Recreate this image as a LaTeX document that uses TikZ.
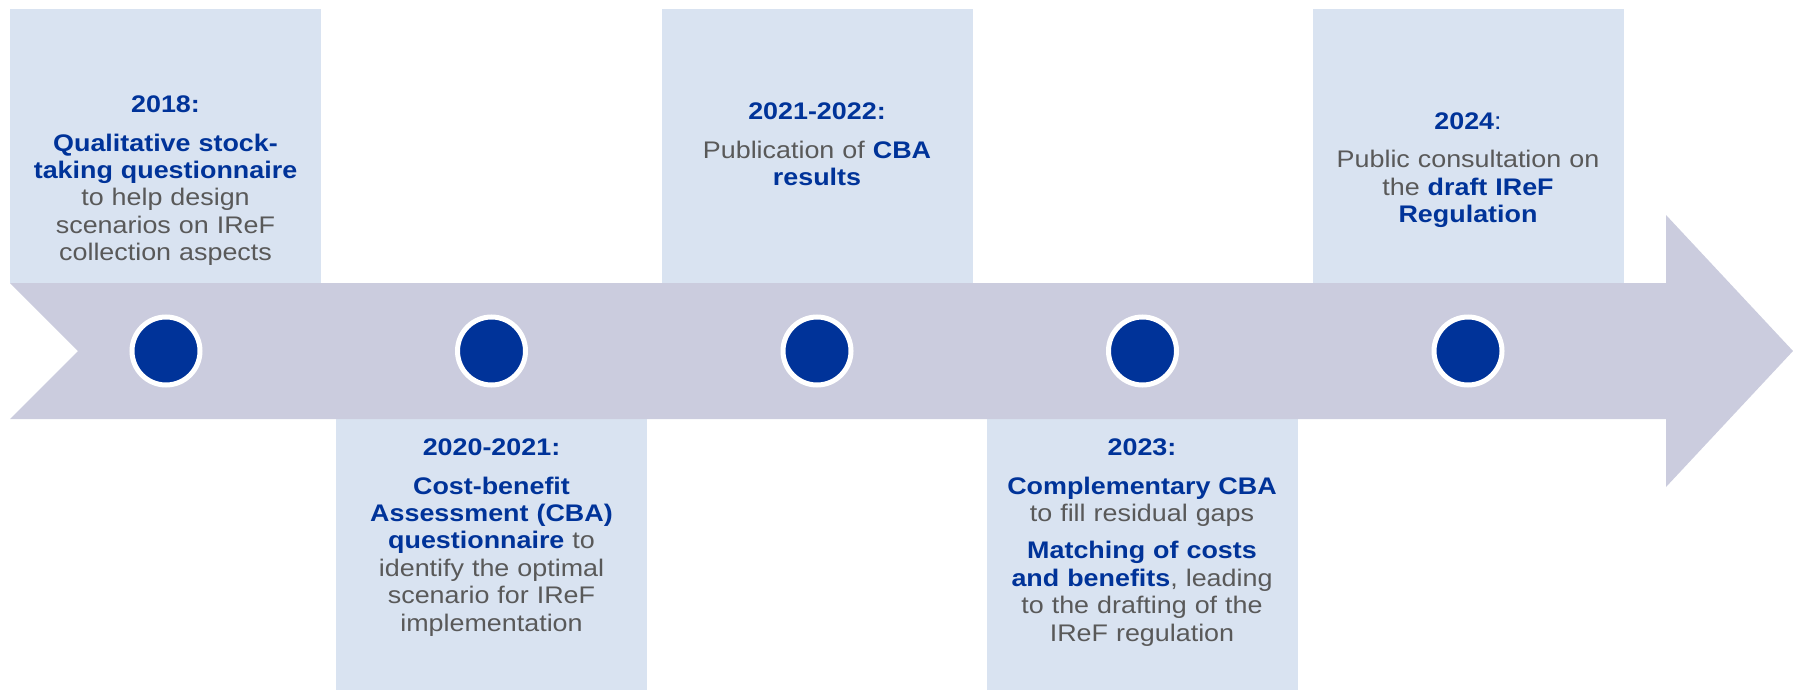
\documentclass[tikz,border=0pt]{standalone}
\usepackage{fontspec}
\setmainfont{Liberation Sans}[FakeStretch=1.12,
  UprightFeatures={FakeStretch=1.12},
  BoldFeatures={FakeStretch=1.12}]
\definecolor{ecbblue}{RGB}{0,51,153}
\definecolor{txtgrey}{RGB}{89,89,89}
\definecolor{boxfill}{RGB}{217,227,241}
\definecolor{bandfill}{RGB}{203,204,222}
\newcommand{\hb}[1]{{\bfseries\color{ecbblue}#1}}
\begin{document}
\begin{tikzpicture}[x=1pt,y=-1pt,
  evbox/.style={fill=boxfill, draw=none, minimum width=311pt, inner sep=0pt, outer sep=0pt},
  topbox/.style={evbox, minimum height=274pt},
  botbox/.style={evbox, minimum height=271pt},
  evtext/.style={anchor=base, align=center, text width=320pt, inner sep=0pt,
    font=\fontsize{24}{27.4}\selectfont, text=txtgrey},
  evdot/.style={circle, fill=ecbblue, draw=white, line width=5pt, minimum size=68pt, inner sep=0pt}]
\useasboundingbox (0,0) rectangle (1793,690);
% boxes
\node[topbox] (b1) at (165.5,146) {};
\node[botbox] (b2) at (491.5,554.5) {};
\node[topbox] (b3) at (817,146) {};
\node[botbox] (b4) at (1142,554.5) {};
\node[topbox] (b5) at (1468,146) {};
% band arrow
\fill[bandfill] (10,283) -- (1666,283) -- (1666,215) -- (1793,351) -- (1666,487)
  -- (1666,419) -- (10,419) -- (78,351) -- cycle;
% dots
\node[evdot] (d1) at (166,351) {};
\node[evdot] (d2) at (491.5,351) {};
\node[evdot] (d3) at (817,351) {};
\node[evdot] (d4) at (1142.5,351) {};
\node[evdot] (d5) at (1468,351) {};
% texts
\node[evtext] (t1) at (165.5,112.7) {\hb{2018:}\\[11pt]
  \hb{Qualitative stock-}\\
  \hb{taking questionnaire}\\
  to help design\\
  scenarios on IReF\\
  collection aspects};
\node[evtext] (t2) at (491.5,455.7) {\hb{2020-2021:}\\[11pt]
  \hb{Cost-benefit}\\
  \hb{Assessment (CBA)}\\
  \hb{questionnaire} to\\
  identify the optimal\\
  scenario for IReF\\
  implementation};
\node[evtext] (t3) at (817,120) {\hb{2021-2022:}\\[11pt]
  Publication of \hb{CBA}\\
  \hb{results}};
\node[evtext] (t4) at (1142,455.7) {\hb{2023:}\\[11pt]
  \hb{Complementary CBA}\\
  to fill residual gaps\\[10pt]
  \hb{Matching of costs}\\
  \hb{and benefits}, leading\\
  to the drafting of the\\
  IReF regulation};
\node[evtext] (t5) at (1468,129.3) {\hb{2024}{\color{ecbblue}:}\\[11pt]
  Public consultation on\\
  the \hb{draft IReF}\\
  \hb{Regulation}};
\end{tikzpicture}
\end{document}
